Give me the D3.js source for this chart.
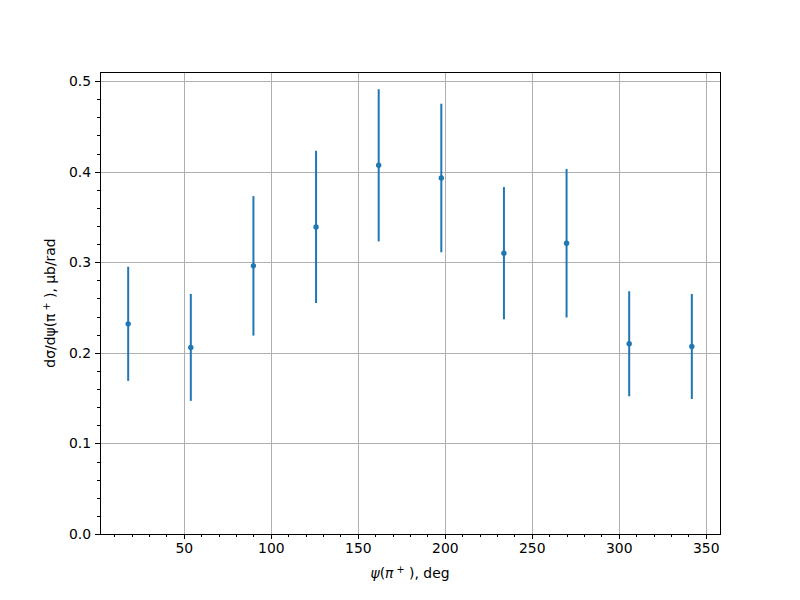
<!DOCTYPE html>
<html><head><meta charset="utf-8">
<script src="https://cdn.jsdelivr.net/npm/d3@7"></script>
<style>body{margin:0;background:#fff}svg{display:block}text{font-family:"DejaVu Sans",sans-serif}</style>
</head><body><svg id="c" width="800" height="600"></svg>
<script>
const psi = [18, 54, 90, 126, 162, 198, 234, 270, 306, 342];
const xsec = [0.232, 0.206, 0.296, 0.339, 0.407, 0.393, 0.310, 0.321, 0.210, 0.207];
const xsecErr = [0.063, 0.059, 0.077, 0.084, 0.084, 0.082, 0.073, 0.082, 0.058, 0.058];
const xTicks = [50, 100, 150, 200, 250, 300, 350];
const yTicks = [0.0, 0.1, 0.2, 0.3, 0.4, 0.5];

const svg = d3.select("#c");
const L = 100, R = 720, T = 72, B = 534;
const xs = d3.scaleLinear().domain([1.8, 358.2]).range([L, R]);
const ys = d3.scaleLinear().domain([0, 0.51]).range([B, T]);
const color = "#1f77b4";

// grid
const g = svg.append("g").attr("shape-rendering", "crispEdges");
g.selectAll(".gx").data(xTicks).enter().append("line")
  .attr("x1", d => Math.round(xs(d))).attr("x2", d => Math.round(xs(d))).attr("y1", T).attr("y2", B)
  .attr("stroke", "#b0b0b0").attr("stroke-width", 1);
g.selectAll(".gy").data(yTicks).enter().append("line")
  .attr("x1", L).attr("x2", R).attr("y1", d => Math.round(ys(d))).attr("y2", d => Math.round(ys(d)))
  .attr("stroke", "#b0b0b0").attr("stroke-width", 1);

// data
const pts = psi.map((p, i) => ({p, v: xsec[i], e: xsecErr[i]}));
svg.append("g").selectAll("line").data(pts).enter().append("line")
  .attr("x1", d => xs(d.p)).attr("x2", d => xs(d.p))
  .attr("y1", d => ys(d.v - d.e)).attr("y2", d => ys(d.v + d.e))
  .attr("stroke", color).attr("stroke-width", 2);
svg.append("g").selectAll("circle").data(pts).enter().append("circle")
  .attr("cx", d => xs(d.p)).attr("cy", d => ys(d.v)).attr("r", 2.7).attr("fill", color);

// axes
const xAxis = d3.axisBottom(xs).tickValues(xTicks).tickFormat(d3.format("d")).tickSize(4.9).tickPadding(4);
const yAxis = d3.axisLeft(ys).tickValues(yTicks).tickFormat(d3.format(".1f")).tickSize(4.9).tickPadding(4);
const xMinor = d3.range(10, 360, 10).filter(v => v % 50 !== 0);
const yMinor = d3.range(0.02, 0.51, 0.02).filter(v => Math.abs(v * 10 - Math.round(v * 10)) > 1e-6);
const gxm = svg.append("g").attr("transform", `translate(0,${B})`)
  .call(d3.axisBottom(xs).tickValues(xMinor).tickSize(2.8).tickFormat(""));
const gym = svg.append("g").attr("transform", `translate(${L},0)`)
  .call(d3.axisLeft(ys).tickValues(yMinor).tickSize(2.8).tickFormat(""));
const gx = svg.append("g").attr("transform", `translate(0,${B})`).call(xAxis);
const gy = svg.append("g").attr("transform", `translate(${L},0)`).call(yAxis);
[gx, gy, gxm, gym].forEach(a => {
  a.select(".domain").remove();
  a.selectAll("line").attr("stroke", "#000").attr("stroke-width", 1).attr("shape-rendering", "crispEdges");
  a.selectAll("text").attr("font-size", "13.9px").attr("fill", "#000").attr("font-family", "DejaVu Sans");
});
gx.selectAll("text").attr("dy", "0.71em");

// frame
svg.append("rect").attr("x", L).attr("y", T).attr("width", R - L).attr("height", B - T)
  .attr("fill", "none").attr("stroke", "#000").attr("stroke-width", 1).attr("shape-rendering", "crispEdges");

// labels
const xl = svg.append("text").attr("x", 410).attr("y", 578).attr("text-anchor", "middle").attr("font-size", "13.9px");
xl.append("tspan").attr("font-style", "italic").text("ψ");
xl.append("tspan").text("(");
xl.append("tspan").attr("font-style", "italic").text("π");
xl.append("tspan").attr("font-size", "9.7px").attr("dy", -5).text(" +");
xl.append("tspan").attr("dy", 5).text(" ), deg");

const yl = svg.append("text").attr("transform", "translate(55,303) rotate(-90)").attr("text-anchor", "middle").attr("font-size", "13.9px");
yl.append("tspan").text("dσ/dψ(π");
yl.append("tspan").attr("font-size", "9.7px").attr("dy", -5).text(" +");
yl.append("tspan").attr("dy", 5).text(" ), μb/rad");
</script></body></html>
